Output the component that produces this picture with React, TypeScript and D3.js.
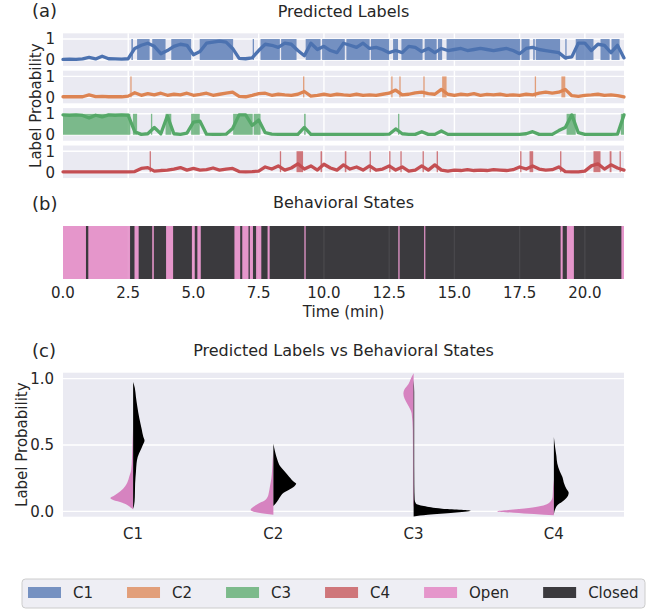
import React from 'react';
import * as d3 from 'd3';

const classNames = ['C1', 'C2', 'C3', 'C4'];
const classColors = ['#4c72b0', '#dd8452', '#55a868', '#c44e52'];
const stateNames = ['Open', 'Closed'];
const stateColors = ['#e596cb', '#3b3a3e'];
const violinColors = ['#d683c0', '#000000'];

const timeTicks = [0, 2.5, 5, 7.5, 10, 12.5, 15, 17.5, 20];
const rowTicks = [0, 1];
const violinTicks = [0, 0.5, 1.0];

// label probabilities, one sample every 0.25 min (0 .. 21.5)
const sampleStep = 0.25;
const c1Prob = [
  0.03, 0.04, 0.03, 0.05, 0.12, 0.05, 0.18, 0.06, 0.05, 0.04, 0.06, 0.55,
  0.7, 0.8, 0.65, 0.3, 0.45, 0.65, 0.75, 0.7, 0.25, 0.4, 0.8, 0.85,
  0.9, 0.85, 0.55, 0.08, 0.06, 0.1, 0.45, 0.75, 0.7, 0.6, 0.8, 0.75,
  0.45, 0.2, 0.8, 0.5, 0.65, 0.45, 0.35, 0.8, 0.7, 0.6, 0.8, 0.55,
  0.6, 0.5, 0.35, 0.45, 0.35, 0.65, 0.6, 0.4, 0.55, 0.35, 0.55, 0.45,
  0.5, 0.55, 0.45, 0.5, 0.55, 0.5, 0.45, 0.5, 0.55, 0.45, 0.3, 0.55,
  0.6, 0.5, 0.45, 0.4, 0.35, 0.1, 0.15, 0.8, 0.8, 0.45, 0.75, 0.7,
  0.35, 0.7, 0.1,
];
const c2Prob = [
  0.03, 0.03, 0.04, 0.03, 0.12, 0.04, 0.05, 0.03, 0.04, 0.03, 0.06, 0.22,
  0.1, 0.18, 0.12, 0.2, 0.1, 0.15, 0.12, 0.2, 0.1, 0.14, 0.2, 0.1,
  0.15, 0.2, 0.25, 0.05, 0.03, 0.1, 0.18, 0.2, 0.1, 0.15, 0.12, 0.1,
  0.15, 0.28, 0.06, 0.1, 0.15, 0.1, 0.15, 0.12, 0.1, 0.15, 0.1, 0.12,
  0.1, 0.15, 0.2, 0.35, 0.12, 0.15, 0.22, 0.25, 0.18, 0.15, 0.38, 0.15,
  0.1, 0.15, 0.12, 0.18, 0.1, 0.14, 0.12, 0.15, 0.1, 0.12, 0.1, 0.15,
  0.12, 0.2, 0.25, 0.2, 0.25, 0.38, 0.08, 0.05, 0.1, 0.12, 0.15, 0.1,
  0.12, 0.08, 0.02,
];
const c3Prob = [
  0.95, 0.93, 0.95, 0.92, 0.8, 0.93, 0.85, 0.95, 0.93, 0.95, 0.93, 0.15,
  0.02, 0.05, 0.35, 0.05, 0.9, 0.05, 0.02, 0.08, 0.6, 0.65, 0.03, 0.02,
  0.02, 0.03, 0.3, 0.95, 0.95, 0.45, 0.7, 0.1, 0.03, 0.02, 0.02, 0.02,
  0.02, 0.35, 0.02, 0.02, 0.02, 0.02, 0.02, 0.02, 0.02, 0.02, 0.02, 0.02,
  0.02, 0.02, 0.03, 0.28, 0.05, 0.02, 0.02, 0.15, 0.02, 0.02, 0.18, 0.02,
  0.02, 0.02, 0.02, 0.02, 0.02, 0.02, 0.02, 0.02, 0.02, 0.02, 0.02, 0.05,
  0.15, 0.02, 0.02, 0.02, 0.2, 0.35, 0.95, 0.1, 0.02, 0.02, 0.02, 0.02,
  0.02, 0.03, 0.95,
];
const c4Prob = [
  0.02, 0.02, 0.02, 0.02, 0.02, 0.02, 0.02, 0.02, 0.02, 0.02, 0.02, 0.03,
  0.18, 0.22, 0.05, 0.08, 0.1, 0.15, 0.22, 0.1, 0.18, 0.1, 0.12, 0.2,
  0.1, 0.15, 0.18, 0.03, 0.02, 0.03, 0.05, 0.25, 0.15, 0.3, 0.1, 0.2,
  0.4, 0.15, 0.3, 0.1, 0.38, 0.2, 0.1, 0.35, 0.15, 0.25, 0.1, 0.3,
  0.1, 0.15, 0.3, 0.1, 0.25, 0.05, 0.1, 0.3, 0.1, 0.35, 0.1, 0.05,
  0.1, 0.08, 0.12, 0.08, 0.1, 0.08, 0.12, 0.1, 0.08, 0.12, 0.25, 0.15,
  0.3, 0.15, 0.1, 0.12, 0.25, 0.03, 0.02, 0.02, 0.05, 0.3, 0.4, 0.15,
  0.35, 0.2, 0.1,
];

// predicted label intervals [start, end] in minutes
const c1Fill = [
  [2.62, 2.68], [2.84, 3.32], [3.42, 3.93], [4.15, 4.91], [5.24, 6.52], [7.27, 7.31],
  [7.57, 8.31], [8.36, 8.95], [9.3, 9.87], [9.93, 10.8], [10.86, 11.75], [11.8, 12.5],
  [12.65, 12.84], [12.97, 13.78], [13.86, 14.32], [14.37, 14.53], [14.7, 17.52],
  [17.57, 17.88], [18.02, 18.08], [18.12, 19.05], [19.25, 19.3], [19.65, 20.33],
  [20.6, 20.95], [21.02, 21.33],
];
const c2Fill = [
  [2.58, 2.62], [9.2, 9.24], [12.58, 12.63], [12.89, 12.93], [13.81, 13.86],
  [14.53, 14.7], [18.08, 18.12], [19.1, 19.25],
];
const c3Fill = [
  [0, 2.58], [2.68, 2.84], [3.37, 3.42], [3.93, 4.15], [4.91, 5.24], [6.52, 7.27],
  [7.31, 7.57], [9.24, 9.3], [12.84, 12.89], [19.3, 19.65], [21.38, 21.5],
];
const c4Fill = [
  [3.32, 3.37], [8.31, 8.36], [8.95, 9.2], [9.87, 9.93], [10.8, 10.86], [11.75, 11.8],
  [12.5, 12.55], [12.93, 12.97], [13.78, 13.81], [14.32, 14.37], [17.52, 17.57],
  [17.88, 18.02], [19.05, 19.1], [20.33, 20.6], [20.95, 21.02], [21.33, 21.38],
];

// behavioral state: Open intervals (everything else is Closed)
const openIntervals = [
  [0, 0.88], [0.97, 2.57], [2.74, 2.9], [3.42, 3.48], [3.95, 4.22], [4.94, 5.05],
  [5.15, 5.28], [6.57, 6.79], [6.87, 7.11], [7.16, 7.28], [7.4, 7.6], [7.84, 7.92],
  [9.25, 9.3], [12.85, 12.9], [13.84, 13.88], [19.07, 19.15], [19.31, 19.58], [21.4, 21.5],
];
const totalMinutes = 21.5;

// split violins: [label probability, relative density]
const c1Open = [[0.65, 0], [0.5, 0.012], [0.4, 0.02], [0.31, 0.035], [0.26, 0.07], [0.22, 0.1], [0.19, 0.14], [0.15, 0.23], [0.12, 0.33], [0.1, 0.4], [0.085, 0.35], [0.065, 0.19], [0.045, 0.09], [0.025, 0.03], [0.015, 0]];
const c1Closed = [[0.975, 0], [0.93, 0.03], [0.86, 0.05], [0.8, 0.07], [0.7, 0.11], [0.62, 0.15], [0.56, 0.18], [0.535, 0.2], [0.5, 0.17], [0.46, 0.13], [0.41, 0.08], [0.36, 0.06], [0.3, 0.05], [0.21, 0.035], [0.11, 0.03], [0.04, 0.015], [0.02, 0]];
const c2Open = [[0.46, 0], [0.38, 0.014], [0.31, 0.023], [0.25, 0.035], [0.19, 0.06], [0.14, 0.08], [0.11, 0.1], [0.08, 0.16], [0.06, 0.26], [0.035, 0.35], [0.013, 0.4], [-0.01, 0.26], [-0.025, 0]];
const c2Closed = [[0.51, 0], [0.45, 0.03], [0.39, 0.07], [0.34, 0.12], [0.31, 0.18], [0.26, 0.28], [0.22, 0.37], [0.21, 0.4], [0.19, 0.37], [0.16, 0.26], [0.14, 0.18], [0.11, 0.12], [0.09, 0.09], [0.06, 0.04], [0.04, 0]];
const c3Open = [[1.04, 0], [1.0, 0.05], [0.96, 0.09], [0.92, 0.16], [0.89, 0.18], [0.85, 0.16], [0.81, 0.11], [0.74, 0.035], [0.61, 0.015], [0.4, 0.012], [0.2, 0.012], [0.06, 0.01], [0.03, 0]];
const c3Closed = [[0.99, 0], [0.9, 0.01], [0.5, 0.01], [0.2, 0.012], [0.09, 0.018], [0.06, 0.04], [0.04, 0.18], [0.02, 0.5], [0.005, 1], [-0.01, 0.7], [-0.025, 0.25], [-0.038, 0]];
const c4Open = [[0.24, 0], [0.18, 0.014], [0.11, 0.023], [0.08, 0.05], [0.06, 0.1], [0.04, 0.23], [0.025, 0.44], [0.01, 0.8], [0.0, 1], [-0.01, 0.7], [-0.02, 0.35], [-0.03, 0]];
const c4Closed = [[0.56, 0], [0.48, 0.023], [0.42, 0.044], [0.36, 0.06], [0.3, 0.105], [0.26, 0.15], [0.21, 0.18], [0.17, 0.22], [0.14, 0.26], [0.1, 0.22], [0.07, 0.14], [0.05, 0.07], [0.02, 0.026], [-0.025, 0]];

const FONT = '"DejaVu Sans", sans-serif';
const INK = '#262626';
const BG = '#eaeaf2';

// canvas text measure, for the legend layout
const measure = (() => {
  const ctx = document.createElement('canvas').getContext('2d');
  return (s: string, size: number) => {
    if (!ctx) return s.length * size * 0.6;
    ctx.font = `${size}px "DejaVu Sans"`;
    return ctx.measureText(s).width;
  };
})();

export default function App() {
  const timeMin = c1Prob.map((_, i) => i * sampleStep);
  const probSeries = [c1Prob, c2Prob, c3Prob, c4Prob];
  const fillSeries = [c1Fill, c2Fill, c3Fill, c4Fill];
  const openViolins = [c1Open, c2Open, c3Open, c4Open];
  const closedViolins = [c1Closed, c2Closed, c3Closed, c4Closed];

  const x = d3.scaleLinear().domain([0, totalMinutes]).range([63, 624]);
  const [left, right] = x.range();

  // (a) four stacked rows
  const rows = classNames.map((name, i) => {
    const zero = 60 + i * 37.4;
    const y = d3.scaleLinear().domain([0, 1]).range([zero, zero - 21]);
    return { name, i, y, top: y(1.27), bottom: y(-0.28) };
  });

  // (b)
  const stateTop = 226, stateBottom = 279;

  // (c)
  const xc = d3.scaleBand().domain(classNames).range([63, 624]);
  const yV = d3.scaleLinear().domain([-0.04, 1.045]).range([516.7, 372.7]);
  const wScale = d3.scaleLinear().domain([0, 1]).range([0, xc.bandwidth() * 0.406]);

  const halfViolin = (cx: number, side: number) =>
    d3.area<number[]>()
      .y(d => yV(d[0]))
      .x0(cx)
      .x1(d => cx + side * wScale(d[1]))
      .curve(d3.curveMonotoneY);

  // legend entries
  const legendItems = [
    ...classNames.map((n, i) => ({ label: n, color: classColors[i], opacity: 0.75 })),
    ...stateNames.map((n, i) => ({ label: n, color: stateColors[i], opacity: 1 })),
  ];
  let lx = 28;
  const legendPos = legendItems.map(it => {
    const p = { ...it, px: lx, tx: lx + 33 + 12 };
    lx = p.tx + measure(it.label, 15) + 34;
    return p;
  });

  return (
    <svg width={660} height={611} style={{ position: 'absolute', left: 0, top: 0 }}
      fontFamily={FONT} fill={INK}>
      <rect width={660} height={611} fill="#fff" />

      {/* (a) Predicted labels */}
      <text x={32} y={17} fontSize={18}>(a)</text>
      <text x={(left + right) / 2} y={16.5} fontSize={16} textAnchor="middle">Predicted Labels</text>
      <text transform={`translate(41,${(rows[0].top + rows[3].bottom) / 2}) rotate(-90)`}
        fontSize={15} textAnchor="middle">Label Probability</text>
      {rows.map(r => {
        const line = d3.line<number>()
          .x((_, j) => x(timeMin[j]))
          .y(d => r.y(d));
        return (
          <g key={r.name}>
            <rect x={left} y={r.top} width={right - left} height={r.bottom - r.top} fill={BG} />
            {timeTicks.filter(t => t > 0).map(t => (
              <line key={t} x1={x(t)} x2={x(t)} y1={r.top} y2={r.bottom} stroke="#fff" strokeWidth={1.4} />
            ))}
            {rowTicks.map(t => (
              <g key={t}>
                <line x1={left} x2={right} y1={r.y(t)} y2={r.y(t)} stroke="#fff" strokeWidth={1.4} />
                <text x={55} y={r.y(t)} dy="0.36em" fontSize={15} textAnchor="end">{t}</text>
              </g>
            ))}
            {fillSeries[r.i].map(([a, b], k) => (
              <rect key={k} x={x(a)} y={r.y(1)} width={Math.max(x(b) - x(a), 1.3)}
                height={r.y(0) - r.y(1)} fill={classColors[r.i]} fillOpacity={0.75} />
            ))}
            <path d={line(probSeries[r.i]) || ''} fill="none" stroke={classColors[r.i]}
              strokeWidth={3.3} strokeLinejoin="round" strokeLinecap="round" />
          </g>
        );
      })}

      {/* (b) Behavioral states */}
      <text x={32} y={210} fontSize={18}>(b)</text>
      <text x={(left + right) / 2} y={208} fontSize={16} textAnchor="middle">Behavioral States</text>
      <rect x={x(0)} y={stateTop} width={x(totalMinutes) - x(0)} height={stateBottom - stateTop} fill={stateColors[1]} />
      {openIntervals.map(([a, b], k) => (
        <rect key={k} x={x(a)} y={stateTop} width={Math.max(x(b) - x(a), 1.2)}
          height={stateBottom - stateTop} fill={stateColors[0]} />
      ))}
      {timeTicks.filter(t => t > 0).map(t => (
        <line key={t} x1={x(t)} x2={x(t)} y1={stateTop} y2={stateBottom} stroke="#fff" strokeOpacity={0.07} strokeWidth={1.4} />
      ))}
      {timeTicks.map(t => (
        <text key={t} x={x(t)} y={297.5} fontSize={15} textAnchor="middle">{t.toFixed(1)}</text>
      ))}
      <text x={(left + right) / 2} y={317} fontSize={15} textAnchor="middle">Time (min)</text>

      {/* (c) Predicted labels vs behavioral states */}
      <text x={32} y={357} fontSize={18}>(c)</text>
      <text x={(left + right) / 2} y={356} fontSize={16} textAnchor="middle">Predicted Labels vs Behavioral States</text>
      <rect x={63} y={yV(1.045)} width={561} height={yV(-0.04) - yV(1.045)} fill={BG} />
      {violinTicks.map(t => (
        <g key={t}>
          <line x1={63} x2={624} y1={yV(t)} y2={yV(t)} stroke="#fff" strokeWidth={1.4} />
          <text x={54} y={yV(t)} dy="0.36em" fontSize={15} textAnchor="end">{t.toFixed(1)}</text>
        </g>
      ))}
      <text transform={`translate(27,${(yV(1.045) + yV(-0.04)) / 2}) rotate(-90)`}
        fontSize={15} textAnchor="middle">Label Probability</text>
      {classNames.map((name, i) => {
        const cx = (xc(name) || 0) + xc.bandwidth() / 2;
        return (
          <g key={name}>
            <path d={halfViolin(cx, -1)(openViolins[i]) || ''} fill={violinColors[0]} />
            <path d={halfViolin(cx, 1)(closedViolins[i]) || ''} fill={violinColors[1]} />
            <text x={cx} y={539} fontSize={15} textAnchor="middle">{name}</text>
          </g>
        );
      })}

      {/* legend */}
      <rect x={22} y={579} width={623} height={29} rx={3.5} fill="#eeeef4" stroke="#cccccc" strokeWidth={1} />
      {legendPos.map(it => (
        <g key={it.label}>
          <rect x={it.px} y={587} width={33} height={11} fill={it.color} fillOpacity={it.opacity} />
          <text x={it.tx} y={598} fontSize={15}>{it.label}</text>
        </g>
      ))}
    </svg>
  );
}
